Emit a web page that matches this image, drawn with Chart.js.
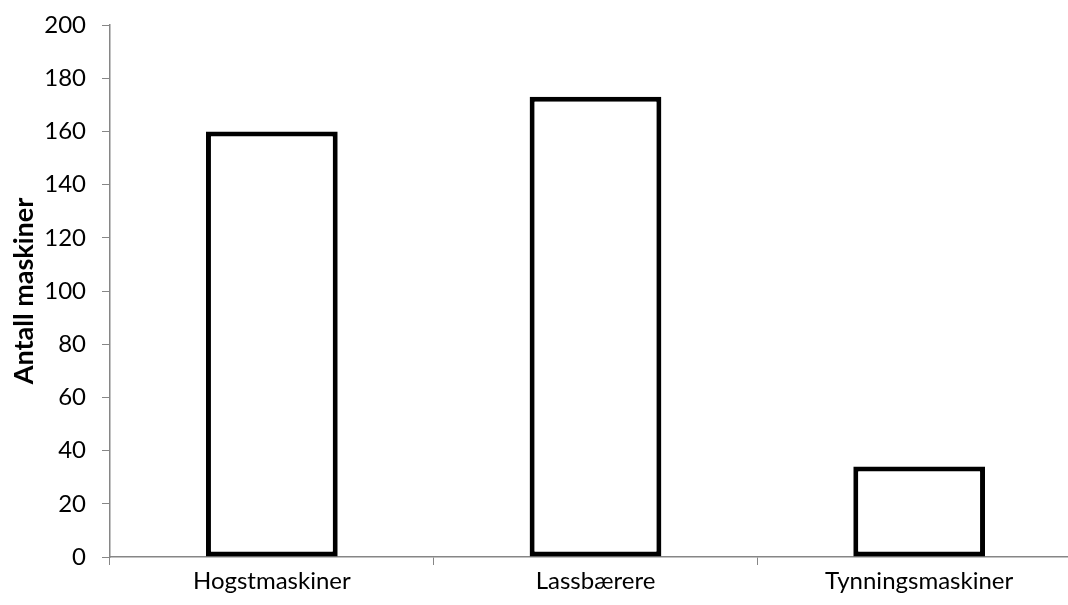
<!DOCTYPE html>
<html>
<head>
<meta charset="utf-8">
<script src="https://cdn.jsdelivr.net/npm/chart.js@4.4.1/dist/chart.umd.min.js"></script>
<style>
  html, body { margin: 0; padding: 0; background: #ffffff; overflow: hidden; }
  #wrap { position: relative; width: 1090px; height: 605px; }
</style>
</head>
<body>
<div id="wrap"><canvas id="c"></canvas></div>
<script>
const categories = ["Hogstmaskiner", "Lassbærere", "Tynningsmaskiner"];
const antallMaskiner = [160, 173, 34];
const yTickValues = [0, 20, 40, 60, 80, 100, 120, 140, 160, 180, 200];
const yTitle = "Antall maskiner";

const FONT = "Lato, 'Open Sans', sans-serif";
const AXIS = "#868686";

new Chart(document.getElementById("c"), {
  type: "bar",
  data: {
    labels: categories,
    datasets: [{
      data: antallMaskiner,
      backgroundColor: "#ffffff",
      borderColor: "#000000",
      borderWidth: 5,
      borderSkipped: false,
      barPercentage: 0.407,
      categoryPercentage: 1.0
    }]
  },
  options: {
    responsive: true,
    maintainAspectRatio: false,
    animation: false,
    layout: { padding: { top: 25, right: 9, left: 0, bottom: 0 } },
    plugins: { legend: { display: false }, tooltip: { enabled: false } },
    scales: {
      x: {
        grid: { display: true, offset: true, drawOnChartArea: false, color: AXIS, tickLength: 8, lineWidth: 1 },
        border: { display: true, color: AXIS, width: 1.5 },
        ticks: { color: "#000000", font: { family: FONT, size: 24 }, padding: 2 },
        afterFit: s => { s.height = 48; }
      },
      y: {
        min: 0, max: 200,
        afterBuildTicks: s => { s.ticks = yTickValues.map(v => ({ value: v })); },
        grid: { display: true, drawOnChartArea: false, color: AXIS, tickLength: 8, lineWidth: 1 },
        border: { display: true, color: AXIS, width: 1.5 },
        ticks: { color: "#000000", font: { family: FONT, size: 24 }, padding: 16 },
        title: { display: true, text: yTitle, color: "#000000", font: { family: FONT, size: 27, weight: "bold" }, padding: { top: 8, bottom: 0 } },
        afterFit: s => { s.width = 110; s.paddingTop = 0; s.paddingBottom = 0; }
      }
    }
  }
});
</script>
</body>
</html>
